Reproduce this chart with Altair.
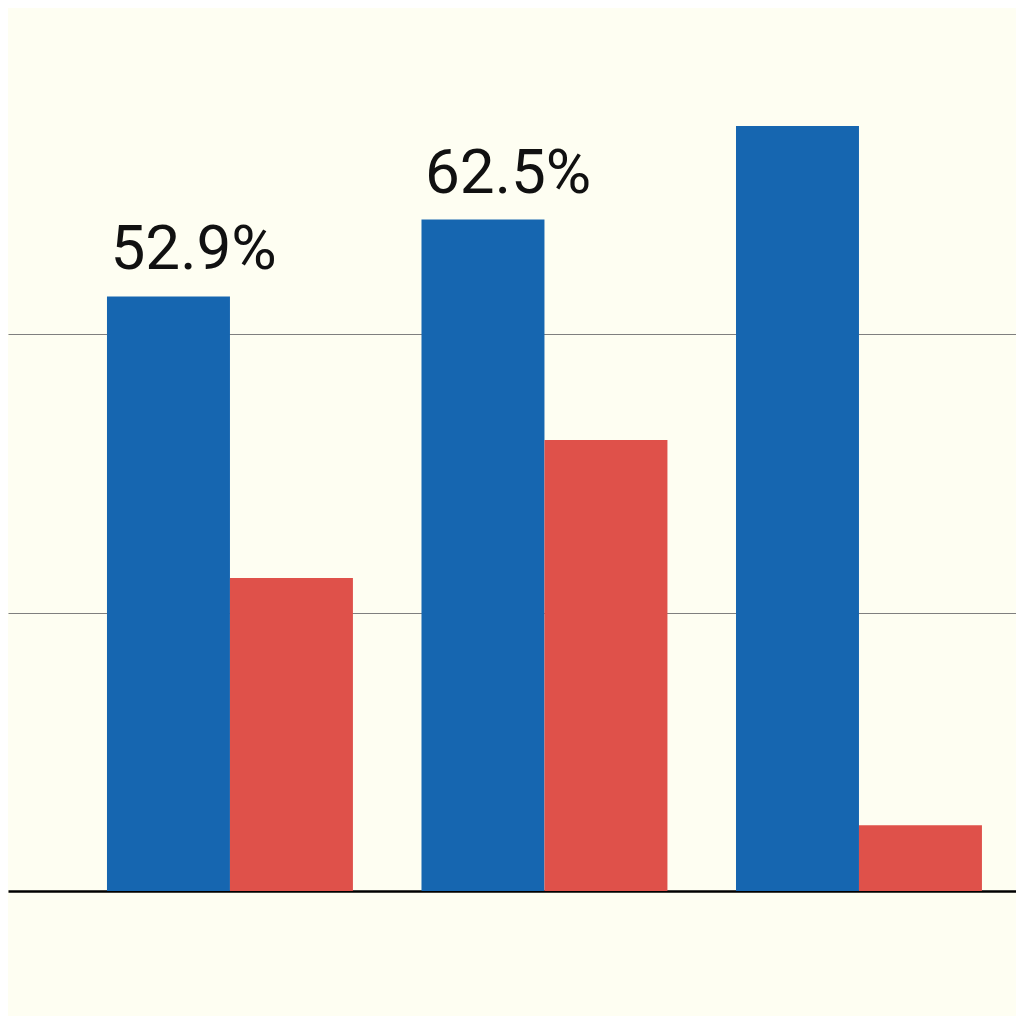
import altair as alt
import pandas as pd

groups = ["A", "B", "C"]
series = ["Blue", "Red"]
blue_values = [53.4, 60.3, 68.7]
red_values = [28.1, 40.5, 5.9]
blue_labels = ["52.9%", "62.5%", ""]
grid_values = [25, 50]

rows = []
for g, b, r, lab in zip(groups, blue_values, red_values, blue_labels):
    rows.append({"group": g, "series": "Blue", "value": b, "label": lab})
    rows.append({"group": g, "series": "Red", "value": r, "label": ""})
df = pd.DataFrame(rows)

xscale = alt.Scale(domain=groups, paddingInner=0.218, paddingOuter=0.2115, align=0.744)
yscale = alt.Scale(domain=[0, 79.3], nice=False, zero=True)

bars = alt.Chart(df).mark_bar().encode(
    x=alt.X("group:N", scale=xscale,
            axis=alt.Axis(labels=False, ticks=False, title=None, domain=True,
                          domainColor="#000000", domainWidth=2.5, grid=False)),
    xOffset=alt.XOffset("series:N", sort=series,
                        scale=alt.Scale(paddingInner=0, paddingOuter=0)),
    y=alt.Y("value:Q", scale=yscale,
            axis=alt.Axis(values=grid_values, labels=False, ticks=False, title=None,
                          domain=False, grid=True, gridColor="#7f7f7f",
                          gridWidth=1, gridOpacity=1)),
    color=alt.Color("series:N", sort=series,
                    scale=alt.Scale(domain=series, range=["#1666B0", "#DF514A"]),
                    legend=None),
)

labels = alt.Chart(df).transform_filter("datum.label != ''").mark_text(
    align="left", baseline="alphabetic", dx=-58, dy=-27,
    font="Roboto", fontSize=62, color="#111111"
).encode(
    x=alt.X("group:N", scale=xscale),
    xOffset=alt.XOffset("series:N", sort=series,
                        scale=alt.Scale(paddingInner=0, paddingOuter=0)),
    y=alt.Y("value:Q", scale=yscale),
    text="label:N",
)

chart = alt.layer(bars, labels).properties(
    width=1008, height=883,
    padding={"left": 0, "top": 0, "right": 0, "bottom": 125},
    autosize=alt.AutoSizeParams(type="none"),
    background="#FEFEF2",
).configure_view(stroke=None, fill="#FEFEF2")

chart.save("out.html", embed_options={"renderer": "svg", "actions": False})
